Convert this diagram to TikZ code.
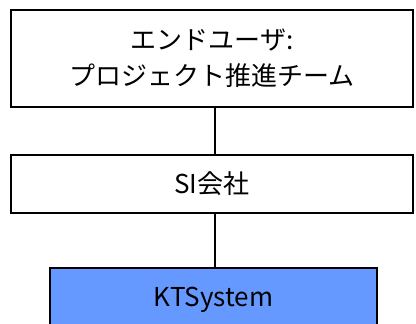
\documentclass[tikz,border=0pt]{standalone}
\usepackage{fontspec}
\setmainfont{Noto Sans CJK JP}
\usetikzlibrary{calc}
\definecolor{sysblue}{HTML}{6699FF}

\begin{document}
\begin{tikzpicture} [x=1pt, y=-1pt, font=\fontsize{26}{36}\selectfont,
  box/.style={draw=black, line width=1.6pt, align=center, inner sep=0pt}]
\useasboundingbox (0,0) rectangle (416,324);
\clip (0,0) rectangle (416,324);
\node[box, minimum width=402pt, minimum height=97pt] (user) at (212,58.5)
  {エンドユーザ:\\プロジェクト推進チーム};
\node[box, minimum width=402pt, minimum height=58pt] (si) at (212,184) {SI会社};
\node[box, fill=sysblue, minimum width=327pt, minimum height=64pt] (kts) at (213.5,300) {KTSystem};
\draw[black, line width=1.6pt] ([xshift=3pt]user.south) -- ([xshift=3pt]si.north);
\draw[black, line width=1.6pt] ([xshift=3pt]si.south) -- ([xshift=1.5pt]kts.north);
\end{tikzpicture}
\end{document}
